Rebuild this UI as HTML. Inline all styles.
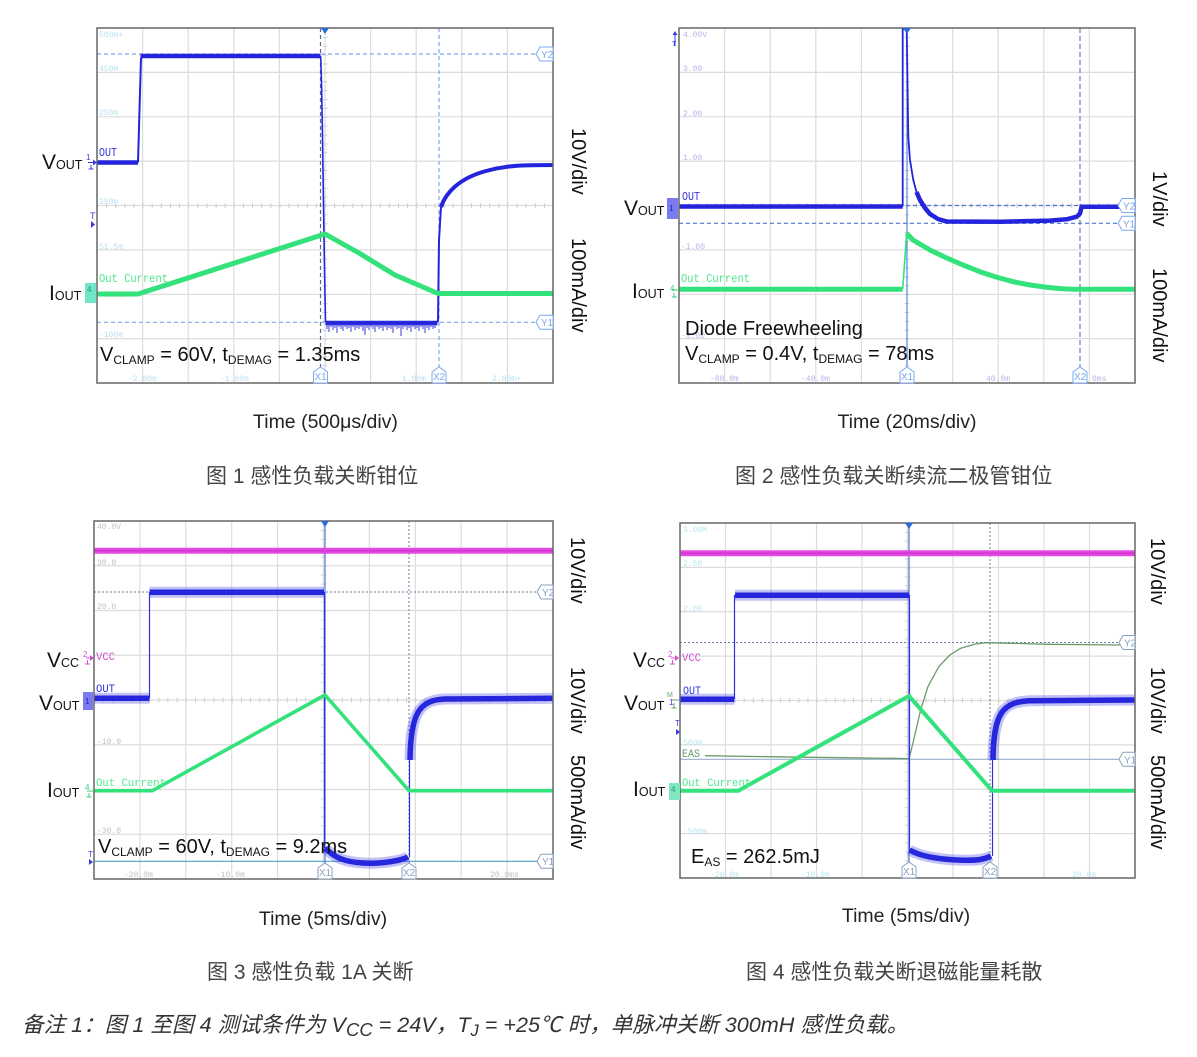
<!DOCTYPE html>
<html><head><meta charset="utf-8"><style>
html,body{margin:0;padding:0;background:#fff;}
svg{display:block;}
</style></head><body>
<svg xmlns="http://www.w3.org/2000/svg" width="1197" height="1057" viewBox="0 0 1197 1057" font-family="'Liberation Sans', Arial, sans-serif">
<rect width="1197" height="1057" fill="#fff"/>

<!-- ================= CHART 1 ================= -->
<g>
<path d="M142.6 28V383M188.2 28V383M233.8 28V383M279.4 28V383M325 28V383M370.6 28V383M416.2 28V383M461.8 28V383M507.4 28V383M97 72.4H553M97 116.8H553M97 161.1H553M97 205.5H553M97 249.9H553M97 294.3H553M97 338.6H553" stroke="#dcdcdc" stroke-width="1.2" fill="none"/>
<line x1="97" y1="205.5" x2="553" y2="205.5" stroke="#d0d0d0" stroke-width="5" stroke-dasharray="1 8.12"/>
<line x1="325" y1="28" x2="325" y2="383" stroke="#d0d0d0" stroke-width="5" stroke-dasharray="1 7.875"/>
<g font-family="'Liberation Mono', monospace" font-size="8" fill="#b8dff0">
<text x="99" y="37">500m+</text><text x="99" y="71">450m</text><text x="99" y="115">250m</text><text x="99" y="204">150m</text><text x="99" y="249">51.5m</text><text x="104" y="297">0.00</text><text x="99" y="337">-100m</text>
<text x="128" y="381">-2.00m</text><text x="220" y="381">-1.00m</text><text x="402" y="381">1.00m</text><text x="492" y="381">2.00m+</text>
</g>
<path d="M97 54H537M97 322.3H537M439 28V367" stroke="#7aa8ee" stroke-width="1.2" stroke-dasharray="4 3" fill="none"/>
<path d="M320.5 28V367" stroke="#56688e" stroke-width="1.2" stroke-dasharray="4 3" fill="none"/>
<!-- blue -->
<path d="M97 162.5H138" stroke="#2424dd" stroke-width="4.5" fill="none"/>
<path d="M138 162.5L139.5 110L141 58" stroke="#2424dd" stroke-width="2" fill="none"/>
<path d="M140.5 56H320.5" stroke="#2424dd" stroke-width="4.5" fill="none"/>
<path d="M320.5 56C322 60 323 200 325.5 322" stroke="#2424dd" stroke-width="1.6" fill="none"/>
<path d="M325.5 323H437.5" stroke="#2424dd" stroke-width="4.5" fill="none"/>
<path d="M327 324v5M329 324v8M331 324v3M333 324v6M335 324v4M337 324v9M339 324v3M341 324v5M343 324v7M345 324v3M347 324v5M349 324v4M351 324v8M353 324v3M355 324v6M357 324v4M359 324v5M361 324v3M363 324v7M365 324v11M367 324v4M369 324v6M371 324v3M373 324v5M375 324v8M377 324v3M379 324v5M381 324v4M383 324v7M385 324v3M387 324v6M389 324v4M391 324v5M393 324v9M395 324v3M397 324v5M399 324v4M401 324v12M403 324v5M405 324v3M407 324v6M409 324v4M411 324v8M413 324v3M415 324v5M417 324v4M419 324v7M421 324v3M423 324v5M425 324v9M427 324v4M429 324v6M431 324v3M433 324v5M435 324v4" stroke="#3a3ae0" stroke-width="1"/>
<path d="M438 322L439 240L441 207" stroke="#2424dd" stroke-width="2" fill="none"/>
<path d="M441 207C446 192 460 178 486 171S530 165.5 553 165" stroke="#2424dd" stroke-width="4" fill="none"/>
<!-- green -->
<path d="M97 294H138L325 234L359 253L377 264L395 275L438 293.5H553" stroke="#33e27a" stroke-width="5" fill="none" stroke-linejoin="round"/>
<rect x="97" y="28" width="456" height="355" fill="none" stroke="#666" stroke-width="1.5"/>
<!-- markers -->
<polygon points="321,28 329,28 325,34" fill="#2a6ae0"/>
<g fill="#fff" stroke="#7aa8ee" stroke-width="1">
<polygon points="536,54 540,47 553,47 553,61 540,61"/>
<polygon points="536,322.3 540,315.3 553,315.3 553,329.3 540,329.3"/>
<polygon points="313.5,383 313.5,372 320.5,367 327.5,372 327.5,383"/>
<polygon points="432,383 432,372 439,367 446,372 446,383"/>
</g>
<g font-size="10" fill="#7aa8ee">
<text x="541" y="58">Y2</text><text x="541" y="326">Y1</text><text x="314.5" y="380">X1</text><text x="433" y="380">X2</text>
</g>
<!-- left side -->
<text x="86" y="160" font-size="8" fill="#3a3ae0">1</text>
<path d="M88 162.5H94M91 165v4M88.5 169h5" stroke="#3a3ae0" stroke-width="1" fill="none"/>
<polygon points="93,159.5 97,162.5 93,165.5" fill="#3a3ae0"/>
<text x="90" y="219" font-size="9" fill="#3a3ae0">T</text>
<polygon points="91,221 95,224.5 91,228" fill="#3a3ae0"/>
<rect x="85" y="283" width="11" height="20" fill="#72e4c8"/>
<text x="87" y="292" font-size="8" fill="#1f9f6f">4</text>
<text x="99" y="156" font-family="'Liberation Mono', monospace" font-size="12" fill="#3030e0" textLength="18" lengthAdjust="spacingAndGlyphs">OUT</text>
<text x="99" y="282" font-family="'Liberation Mono', monospace" font-size="12" fill="#4ee88c" textLength="69" lengthAdjust="spacingAndGlyphs">Out Current</text>
<text x="42" y="169" fill="#111"><tspan font-size="21">V</tspan><tspan font-size="12.5">OUT</tspan></text>
<text x="49" y="300" fill="#111"><tspan font-size="21">I</tspan><tspan font-size="12.5">OUT</tspan></text>
<text x="100" y="361" fill="#111" font-size="20">V<tspan font-size="12" dy="3">CLAMP</tspan><tspan dy="-3"> = 60V, t</tspan><tspan font-size="12" dy="3">DEMAG</tspan><tspan dy="-3"> = 1.35ms</tspan></text>
<text transform="translate(572,128) rotate(90)" font-size="20" fill="#111">10V/div</text>
<text transform="translate(572,238) rotate(90)" font-size="20" fill="#111">100mA/div</text>
<text x="325.5" y="428" font-size="19.5" fill="#222" text-anchor="middle">Time (500μs/div)</text>
</g>

<!-- ================= CHART 2 ================= -->
<g>
<path d="M724.6 28V383M770.2 28V383M815.8 28V383M861.4 28V383M907 28V383M952.6 28V383M998.2 28V383M1043.8 28V383M1089.4 28V383M679 72.4H1135M679 116.8H1135M679 161.1H1135M679 205.5H1135M679 249.9H1135M679 294.3H1135M679 338.6H1135" stroke="#dcdcdc" stroke-width="1.2" fill="none"/>
<line x1="679" y1="205.5" x2="1135" y2="205.5" stroke="#d0d0d0" stroke-width="5" stroke-dasharray="1 8.12"/>
<line x1="907" y1="28" x2="907" y2="383" stroke="#d0d0d0" stroke-width="5" stroke-dasharray="1 7.875"/>
<g font-family="'Liberation Mono', monospace" font-size="8" fill="#b4b4ec">
<text x="683" y="37">4.00V</text><text x="683" y="71">3.00</text><text x="683" y="116">2.00</text><text x="683" y="160">1.00</text><text x="681" y="249">-1.00</text><text x="681" y="338">-3.00</text>
<text x="710" y="381">-80.0m</text><text x="801" y="381">-40.0m</text><text x="986" y="381">40.0m</text><text x="1092" y="381">0ms</text>
</g>
<path d="M906 205.5H1119M679 223.3H1119" stroke="#4a78d8" stroke-width="1.2" stroke-dasharray="4 3" fill="none"/>
<path d="M1080 28V367" stroke="#6680aa" stroke-width="1.2" stroke-dasharray="5 3" fill="none"/>
<path d="M907 28V367" stroke="#5a8ae8" stroke-width="1.2" fill="none"/>
<!-- blue -->
<path d="M679 206.5H902.7" stroke="#2424dd" stroke-width="4.5" fill="none"/>
<path d="M902.7 206.5V29H906.7L908.3 137L910 160L913.3 180L916.5 192L920 200" stroke="#2424dd" stroke-width="1.8" fill="none"/>
<path d="M916.5 192L920 200L925 208L930 214L938 219L946.7 221.5L1000 221.8L1050 220.6L1066.7 219.3L1076.7 216.7L1080 213.5L1081.7 206.7H1135" stroke="#2424dd" stroke-width="4.5" fill="none" stroke-linejoin="round"/>
<!-- green -->
<path d="M679 289.3H902.7" stroke="#33e27a" stroke-width="5" fill="none"/>
<path d="M902.7 289L906.7 233" stroke="#33e27a" stroke-width="1.6" fill="none"/>
<path d="M906.7 233.3L913 240L930 250L946.7 258L963 265L980 271.7L996 277L1013 281.7L1030 285L1046.7 287.3L1060 288.6L1073 289.3H1135" stroke="#33e27a" stroke-width="5" fill="none" stroke-linejoin="round"/>
<rect x="679" y="28" width="456" height="355" fill="none" stroke="#666" stroke-width="1.5"/>
<polygon points="903,28 911,28 907,34" fill="#2a6ae0"/>
<g fill="#fff" stroke="#7aa8ee" stroke-width="1">
<polygon points="1118,205.5 1122,198.5 1135,198.5 1135,212.5 1122,212.5"/>
<polygon points="1118,223.3 1122,216.3 1135,216.3 1135,230.3 1122,230.3"/>
<polygon points="900,383 900,372 907,367 914,372 914,383"/>
<polygon points="1073,383 1073,372 1080,367 1087,372 1087,383"/>
</g>
<g font-size="10" fill="#7aa8ee">
<text x="1123" y="209.5">Y2</text><text x="1123" y="227.3">Y1</text><text x="901" y="380">X1</text><text x="1074" y="380">X2</text>
</g>
<path d="M675 46V33" stroke="#3a3ae0" stroke-width="1"/>
<polygon points="672.5,35 675,31 677.5,35" fill="#3a3ae0"/>
<text x="672" y="46" font-size="7" fill="#3a3ae0">T</text>
<rect x="667" y="198" width="11" height="21" fill="#7b7bf0"/>
<text x="669" y="211" font-size="8" fill="#2020c0">1</text>
<text x="670" y="291" font-size="8" fill="#33d27a">4</text>
<path d="M672 290H679M674 293v4M672 297h5" stroke="#33d27a" stroke-width="1" fill="none"/>
<text x="682" y="200" font-family="'Liberation Mono', monospace" font-size="12" fill="#3030e0" textLength="18" lengthAdjust="spacingAndGlyphs">OUT</text>
<text x="681" y="282" font-family="'Liberation Mono', monospace" font-size="12" fill="#4ee88c" textLength="69" lengthAdjust="spacingAndGlyphs">Out Current</text>
<text x="624" y="215" fill="#111"><tspan font-size="21">V</tspan><tspan font-size="12.5">OUT</tspan></text>
<text x="632" y="298" fill="#111"><tspan font-size="21">I</tspan><tspan font-size="12.5">OUT</tspan></text>
<text x="685" y="335" fill="#111" font-size="20">Diode Freewheeling</text>
<text x="685" y="360" fill="#111" font-size="20">V<tspan font-size="12" dy="3">CLAMP</tspan><tspan dy="-3"> = 0.4V, t</tspan><tspan font-size="12" dy="3">DEMAG</tspan><tspan dy="-3"> = 78ms</tspan></text>
<text transform="translate(1153,171) rotate(90)" font-size="20" fill="#111">1V/div</text>
<text transform="translate(1153,268) rotate(90)" font-size="20" fill="#111">100mA/div</text>
<text x="907" y="428" font-size="19.5" fill="#222" text-anchor="middle">Time (20ms/div)</text>
</g>

<!-- ================= CHART 3 ================= -->
<g>
<path d="M139.9 521V879M185.8 521V879M231.7 521V879M277.6 521V879M323.5 521V879M369.4 521V879M415.3 521V879M461.2 521V879M507.1 521V879M94 565.75H553M94 610.5H553M94 655.25H553M94 700H553M94 744.75H553M94 789.5H553M94 834.25H553" stroke="#dcdcdc" stroke-width="1.2" fill="none"/>
<line x1="94" y1="700" x2="553" y2="700" stroke="#d0d0d0" stroke-width="5" stroke-dasharray="1 8.18"/>
<line x1="323.5" y1="521" x2="323.5" y2="879" stroke="#d0d0d0" stroke-width="5" stroke-dasharray="1 7.95"/>
<g font-family="'Liberation Mono', monospace" font-size="8" fill="#c0c0c0">
<text x="97" y="529">40.0V</text><text x="97" y="565">30.0</text><text x="97" y="609">20.0</text><text x="97" y="744">-10.0</text><text x="97" y="833">-30.0</text>
<text x="124" y="877">-20.0m</text><text x="216" y="877">-10.0m</text><text x="490" y="877">20.0ms</text>
</g>
<path d="M94 592H537M409 521V867" stroke="#6a7fa8" stroke-width="1" stroke-dasharray="2 2" fill="none"/>
<path d="M94 861.3H537" stroke="#4aa0c8" stroke-width="1.2" fill="none"/>
<path d="M325 521V867" stroke="#5a80d8" stroke-width="1.3" fill="none"/>
<!-- magenta -->
<path d="M94 550.7H553" stroke="#e24ae2" stroke-width="6" fill="none"/>
<path d="M94 550.7H553" stroke="#d838d8" stroke-width="2" fill="none"/>
<!-- blue -->
<g fill="none">
<path d="M94 698.3H149.5M149.5 592.3H324M325 848C335 858 345 862 363 863S400 861 408 857M410 760C410.5 712 420 700 445 699L553 698.3" stroke="#5050e8" stroke-opacity="0.35" stroke-width="11"/>
<path d="M94 698.3H149.5M149.5 592.3H324M325 848C335 858 345 862 363 863S400 861 408 857M410 760C410.5 712 420 700 445 699L553 698.3" stroke="#2626dc" stroke-width="5.5"/>
<path d="M149.5 698V592M324.5 592V848M409.5 857V745" stroke="#3030e0" stroke-width="1.2"/>
</g>
<!-- green -->
<path d="M94 790.7H152.4L325 695L409 790.7H553" stroke="#33e27a" stroke-width="3.6" fill="none" stroke-linejoin="round"/>
<rect x="94" y="521" width="459" height="358" fill="none" stroke="#666" stroke-width="1.5"/>
<polygon points="321,521 329,521 325,527" fill="#2a6ae0"/>
<g fill="#fff" stroke="#8aa0c0" stroke-width="1">
<polygon points="537,592 541,585 553,585 553,599 541,599"/>
<polygon points="537,861.3 541,854.3 553,854.3 553,868.3 541,868.3"/>
<polygon points="318,879 318,868 325,863 332,868 332,879"/>
<polygon points="402,879 402,868 409,863 416,868 416,879"/>
</g>
<g font-size="10" fill="#8aa0c0">
<text x="542" y="596">Y2</text><text x="542" y="865">Y1</text><text x="319" y="876">X1</text><text x="403" y="876">X2</text>
</g>
<text x="83" y="657" font-size="8" fill="#d050d0">2</text>
<path d="M86 658H91M87.5 660v4M85 664h5" stroke="#d050d0" stroke-width="1" fill="none"/>
<polygon points="90,655 94,658 90,661" fill="#d050d0"/>
<rect x="83" y="692" width="10" height="18" fill="#7b7bf0"/>
<text x="85" y="704" font-size="8" fill="#2020c0">1</text>
<text x="85" y="790" font-size="8" fill="#33d27a">4</text>
<path d="M87 791H93M89 793v4M86.5 797h5" stroke="#33d27a" stroke-width="1" fill="none"/>
<text x="88" y="857" font-size="8" fill="#3a3ae0">T</text>
<polygon points="89,859 93,862 89,865" fill="#3a3ae0"/>
<text x="96" y="660" font-family="'Liberation Mono', monospace" font-size="11" fill="#d050d0" textLength="19" lengthAdjust="spacingAndGlyphs">VCC</text>
<text x="96" y="692" font-family="'Liberation Mono', monospace" font-size="11" fill="#3030e0" textLength="19" lengthAdjust="spacingAndGlyphs">OUT</text>
<text x="96" y="786" font-family="'Liberation Mono', monospace" font-size="11" fill="#4ee88c" textLength="70" lengthAdjust="spacingAndGlyphs">Out Current</text>
<text x="47" y="667" fill="#111"><tspan font-size="21">V</tspan><tspan font-size="12.5">CC</tspan></text>
<text x="39" y="710" fill="#111"><tspan font-size="21">V</tspan><tspan font-size="12.5">OUT</tspan></text>
<text x="47" y="797" fill="#111"><tspan font-size="21">I</tspan><tspan font-size="12.5">OUT</tspan></text>
<text x="98" y="853" fill="#111" font-size="20">V<tspan font-size="12" dy="3">CLAMP</tspan><tspan dy="-3"> = 60V, t</tspan><tspan font-size="12" dy="3">DEMAG</tspan><tspan dy="-3"> = 9.2ms</tspan></text>
<text transform="translate(571,537) rotate(90)" font-size="20" fill="#111">10V/div</text>
<text transform="translate(571,667) rotate(90)" font-size="20" fill="#111">10V/div</text>
<text transform="translate(571,755) rotate(90)" font-size="20" fill="#111">500mA/div</text>
<text x="323" y="925" font-size="19.5" fill="#222" text-anchor="middle">Time (5ms/div)</text>
</g>

<!-- ================= CHART 4 ================= -->
<g>
<path d="M725.5 523V878M771 523V878M816.5 523V878M862 523V878M907.5 523V878M953 523V878M998.5 523V878M1044 523V878M1089.5 523V878M680 567.4H1135M680 611.75H1135M680 656.1H1135M680 700.5H1135M680 744.9H1135M680 789.25H1135M680 833.6H1135" stroke="#dcdcdc" stroke-width="1.2" fill="none"/>
<line x1="680" y1="700.5" x2="1135" y2="700.5" stroke="#d0d0d0" stroke-width="5" stroke-dasharray="1 8.1"/>
<line x1="907.5" y1="523" x2="907.5" y2="878" stroke="#d0d0d0" stroke-width="5" stroke-dasharray="1 7.875"/>
<g font-family="'Liberation Mono', monospace" font-size="8" fill="#b8e6f0">
<text x="683" y="532">3.00M</text><text x="683" y="566">2.50</text><text x="683" y="611">2.00</text><text x="683" y="745">500m</text><text x="683" y="834">-500m</text>
<text x="710" y="877">-20.0m</text><text x="801" y="877">-10.0m</text><text x="1072" y="877">20.0m</text>
</g>
<path d="M680 642.5H1119M990 523V867" stroke="#6a7fa8" stroke-width="1" stroke-dasharray="2 2" fill="none"/>
<path d="M680 759.3H1119" stroke="#9ab0d0" stroke-width="1.2" fill="none"/>
<path d="M909 523V867" stroke="#5a80d8" stroke-width="1.3" fill="none"/>
<!-- magenta -->
<path d="M680 553.3H1135" stroke="#e24ae2" stroke-width="6" fill="none"/>
<path d="M680 553.3H1135" stroke="#d838d8" stroke-width="2" fill="none"/>
<!-- EAS -->
<path d="M705 755.7L776 756.8L850 757.8L909 758.6L913 743L920.6 710L927.9 686.7L938.8 666.7L949.8 655L960.7 648.3L975.4 644L986.3 642.7L1012 643.3L1048 644.3L1121.5 645" stroke="#6b9b6b" stroke-width="1.3" fill="none" stroke-linejoin="round"/>
<!-- blue -->
<g fill="none">
<path d="M680 699.3H734.3M735 595.3H909M909.5 850C920 856 935 859 957 860S985 859 991 856M993 760C993.5 712 1003 702 1030 700.7L1135 700" stroke="#5050e8" stroke-opacity="0.35" stroke-width="11"/>
<path d="M680 699.3H734.3M735 595.3H909M909.5 850C920 856 935 859 957 860S985 859 991 856M993 760C993.5 712 1003 702 1030 700.7L1135 700" stroke="#2626dc" stroke-width="5.5"/>
<path d="M734.5 699V595M909.5 595V850M992.5 856V745" stroke="#3030e0" stroke-width="1.2"/>
</g>
<!-- green -->
<path d="M680 790.7H738.3L909 696L992 790.7H1135" stroke="#33e27a" stroke-width="4" fill="none" stroke-linejoin="round"/>
<rect x="680" y="523" width="455" height="355" fill="none" stroke="#666" stroke-width="1.5"/>
<polygon points="905,523 913,523 909,529" fill="#2a6ae0"/>
<g fill="#fff" stroke="#8aa0c0" stroke-width="1">
<polygon points="1119,642.5 1123,635.5 1135,635.5 1135,649.5 1123,649.5"/>
<polygon points="1119,759.3 1123,752.3 1135,752.3 1135,766.3 1123,766.3"/>
<polygon points="902,878 902,867 909,862 916,867 916,878"/>
<polygon points="983,878 983,867 990,862 997,867 997,878"/>
</g>
<g font-size="10" fill="#8aa0c0">
<text x="1124" y="646.5">Y2</text><text x="1124" y="763.3">Y1</text><text x="903" y="875">X1</text><text x="984" y="875">X2</text>
</g>
<text x="668" y="657" font-size="8" fill="#d050d0">2</text>
<path d="M671 658H677M672.5 660v4M670 664h5" stroke="#d050d0" stroke-width="1" fill="none"/>
<polygon points="675,655 679,658 675,661" fill="#d050d0"/>
<text x="667" y="697" font-size="7" fill="#6b9b6b">M</text>
<text x="669" y="705" font-size="8" fill="#3a3ae0">1</text>
<path d="M672 700H679M674 703v5M671.5 708h5" stroke="#6b9b6b" stroke-width="1" fill="none"/>
<text x="675" y="726" font-size="8" fill="#3a3ae0">T</text>
<polygon points="676,729 680,732 676,735" fill="#3a3ae0"/>
<rect x="669" y="783" width="11" height="17" fill="#80e8c0"/>
<text x="671" y="792" font-size="8" fill="#1f9f6f">4</text>
<text x="682" y="661" font-family="'Liberation Mono', monospace" font-size="11" fill="#d050d0" textLength="19" lengthAdjust="spacingAndGlyphs">VCC</text>
<text x="683" y="694" font-family="'Liberation Mono', monospace" font-size="11" fill="#3030e0" textLength="18" lengthAdjust="spacingAndGlyphs">OUT</text>
<text x="682" y="757" font-family="'Liberation Mono', monospace" font-size="11" fill="#6b9b6b" textLength="18" lengthAdjust="spacingAndGlyphs">EAS</text>
<text x="682" y="786" font-family="'Liberation Mono', monospace" font-size="11" fill="#4ee88c" textLength="69" lengthAdjust="spacingAndGlyphs">Out Current</text>
<text x="633" y="667" fill="#111"><tspan font-size="21">V</tspan><tspan font-size="12.5">CC</tspan></text>
<text x="624" y="710" fill="#111"><tspan font-size="21">V</tspan><tspan font-size="12.5">OUT</tspan></text>
<text x="633" y="796" fill="#111"><tspan font-size="21">I</tspan><tspan font-size="12.5">OUT</tspan></text>
<text x="691" y="863" fill="#111" font-size="20">E<tspan font-size="12" dy="3">AS</tspan><tspan dy="-3"> = 262.5mJ</tspan></text>
<text transform="translate(1151,538) rotate(90)" font-size="20" fill="#111">10V/div</text>
<text transform="translate(1151,667) rotate(90)" font-size="20" fill="#111">10V/div</text>
<text transform="translate(1151,755) rotate(90)" font-size="20" fill="#111">500mA/div</text>
<text x="906" y="922" font-size="19.5" fill="#222" text-anchor="middle">Time (5ms/div)</text>
</g>

<!-- ================= CAPTIONS ================= -->
<g font-family="'Liberation Sans', 'Noto Sans CJK SC', sans-serif" font-size="21" fill="#444">
<text x="206" y="483">图 1 感性负载关断钳位</text>
<text x="735" y="483">图 2 感性负载关断续流二极管钳位</text>
<text x="207" y="979">图 3 感性负载 1A 关断</text>
<text x="746" y="979">图 4 感性负载关断退磁能量耗散</text>
</g>
<text x="22" y="1032" font-family="'Liberation Sans', 'Noto Sans CJK SC', sans-serif" font-size="21.6" font-style="italic" fill="#333">备注 1：图 1 至图 4 测试条件为 V<tspan font-size="18.5" dy="4">CC</tspan><tspan dy="-4"> = 24V，T</tspan><tspan font-size="16.5" dy="4">J</tspan><tspan dy="-4"> = +25℃ 时，单脉冲关断 300mH 感性负载。</tspan></text>
</svg>
</body></html>
